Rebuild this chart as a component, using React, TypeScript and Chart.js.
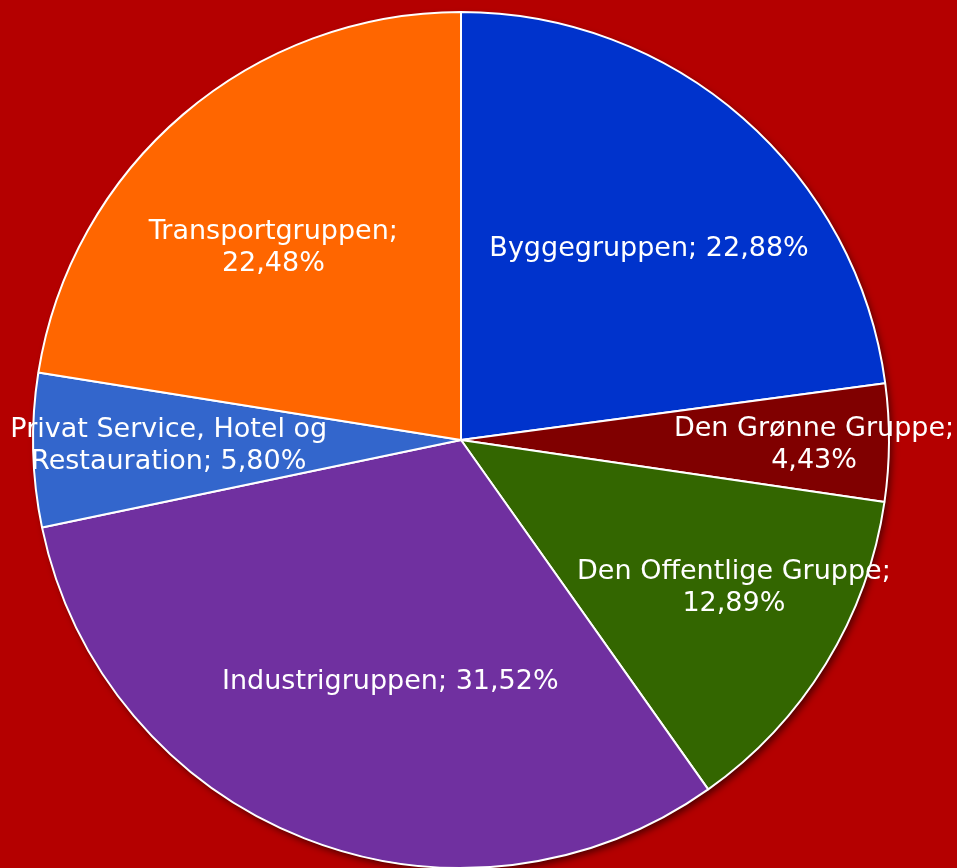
import React, { useEffect, useRef } from "react";
import { Chart, registerables } from "chart.js";

Chart.register(...registerables);

const categories = [
  "Byggegruppen",
  "Den Grønne Gruppe",
  "Den Offentlige Gruppe",
  "Industrigruppen",
  "Privat Service, Hotel og Restauration",
  "Transportgruppen",
];
const values = [22.88, 4.43, 12.89, 31.52, 5.8, 22.48];
const labelLines = [
  ["Byggegruppen; 22,88%"],
  ["Den Grønne Gruppe;", "4,43%"],
  ["Den Offentlige Gruppe;", "12,89%"],
  ["Industrigruppen; 31,52%"],
  ["Privat Service, Hotel og", "Restauration; 5,80%"],
  ["Transportgruppen;", "22,48%"],
];
const colors = ["#0033CC", "#800000", "#336600", "#7030A0", "#3366CC", "#FF6600"];

// label placement: [radius fraction, angle shift in degrees]
const labelPlacement = [
  [0.627, 3.3],
  [0.825, 0.5],
  [0.725, -3.1],
  [0.59, -5.2],
  [0.683, 0.2],
  [0.627, -3.9],
];

const BG = "#B40000";

const bgPlugin = {
  id: "bgFill",
  beforeDraw(chart: any) {
    const { ctx, width, height } = chart;
    ctx.save();
    ctx.fillStyle = BG;
    ctx.fillRect(0, 0, width, height);
    ctx.restore();
  },
};

const shadowPlugin = {
  id: "pieShadow",
  beforeDatasetsDraw(chart: any) {
    const meta = chart.getDatasetMeta(0);
    const arc = meta.data[0];
    if (!arc) return;
    const { x, y, outerRadius } = arc.getProps(["x", "y", "outerRadius"], true);
    const ctx = chart.ctx;
    ctx.save();
    ctx.shadowColor = "rgba(0,0,0,0.55)";
    ctx.shadowBlur = 7;
    ctx.shadowOffsetX = 3;
    ctx.shadowOffsetY = 4;
    ctx.fillStyle = "#ffffff";
    ctx.beginPath();
    ctx.arc(x, y, outerRadius, 0, Math.PI * 2);
    ctx.fill();
    ctx.restore();
  },
};

const labelPlugin = {
  id: "sliceLabels",
  afterDatasetsDraw(chart: any) {
    const meta = chart.getDatasetMeta(0);
    const ctx = chart.ctx;
    ctx.save();
    ctx.fillStyle = "#ffffff";
    ctx.font = '27px "DejaVu Sans", Verdana, sans-serif';
    ctx.textAlign = "center";
    ctx.textBaseline = "middle";
    const lineH = 32;
    meta.data.forEach((arc: any, i: number) => {
      const { x, y, startAngle, endAngle, outerRadius } = arc.getProps(
        ["x", "y", "startAngle", "endAngle", "outerRadius"],
        true
      );
      const [f, shift] = labelPlacement[i];
      const mid = (startAngle + endAngle) / 2 + (shift * Math.PI) / 180;
      const cx = x + Math.cos(mid) * outerRadius * f;
      const cy = y + Math.sin(mid) * outerRadius * f;
      const lines = labelLines[i];
      const top = cy - ((lines.length - 1) * lineH) / 2;
      lines.forEach((ln, k) => ctx.fillText(ln, cx, top + k * lineH));
    });
    ctx.restore();
  },
};

export default function App() {
  const ref = useRef<HTMLCanvasElement | null>(null);
  useEffect(() => {
    if (!ref.current) return;
    const chart = new Chart(ref.current, {
      type: "pie",
      data: {
        labels: categories,
        datasets: [
          {
            data: values,
            backgroundColor: colors,
            borderColor: "#ffffff",
            borderWidth: 2,
          },
        ],
      },
      options: {
        animation: false,
        responsive: false,
        maintainAspectRatio: false,
        layout: { padding: { top: 11, left: 32, right: 67, bottom: 11 } },
        plugins: {
          legend: { display: false },
          tooltip: { enabled: false },
          title: { display: false },
        },
      },
      plugins: [bgPlugin, shadowPlugin, labelPlugin],
    });
    return () => chart.destroy();
  }, []);
  return (
    <div
      style={{
        position: "fixed",
        left: 0,
        top: 0,
        width: 957,
        height: 868,
        overflow: "hidden",
        background: BG,
      }}
    >
      <canvas ref={ref} width={957} height={880} style={{ display: "block" }} />
    </div>
  );
}
